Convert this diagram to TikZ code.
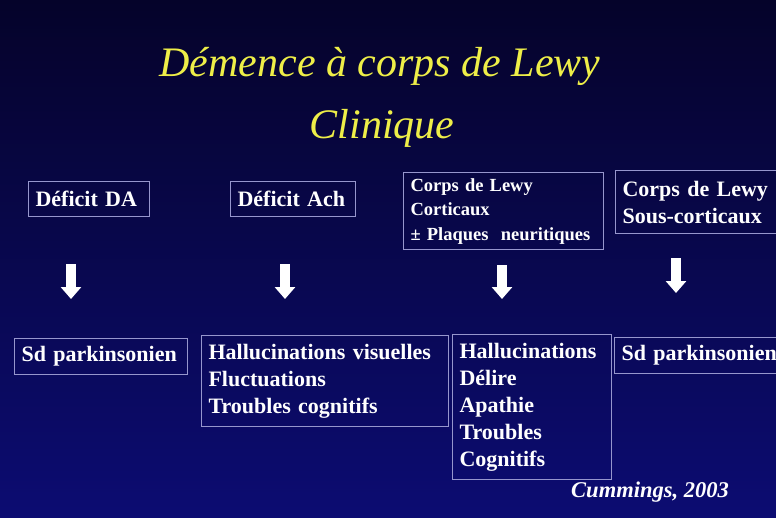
\documentclass[tikz,border=0pt]{standalone}
\usepackage{fontspec}
\setmainfont{Liberation Serif}
\usetikzlibrary{arrows.meta}

\definecolor{fundoTopo}{RGB}{5,3,42}
\definecolor{fundoBase}{RGB}{12,12,114}
\definecolor{titulo}{RGB}{238,238,72}
\definecolor{linhaCaixa}{RGB}{150,150,205}

\begin{document}
\begin{tikzpicture}[
  x = 1pt, y = -1pt,
  caixa/.style = {draw=linhaCaixa, line width=1.1pt, anchor=north west,
    align=left, inner xsep=7pt, inner ysep=0pt, text=white,
    font=\fontsize{22}{27}\selectfont\bfseries},
  caixaP/.style = {caixa, font=\fontsize{18.5}{24.5}\selectfont\bfseries},
  seta/.style = {white, line width=10pt,
    -{Triangle[width=20pt,length=12pt]}}
]
\clip (0,0) rectangle (776,517);
\shade[top color=fundoTopo, bottom color=fundoBase] (0,0) rectangle (776,517);

% titulo
\node[anchor=base, text=titulo, font=\fontsize{42}{50}\selectfont\itshape]
  (tit1) at (380,76) {Démence à corps de Lewy};
\node[anchor=base, text=titulo, font=\fontsize{42}{50}\selectfont\itshape]
  (tit2) at (382,138) {Clinique};

% causas (linha de cima)
\node[caixa, text width=107pt, minimum height=35pt] (da) at (28,181) {Déficit DA};
\node[caixa, text width=111pt, minimum height=35pt] (ach) at (230,181) {Déficit Ach};
\node[caixaP, text width=186pt, minimum height=77pt] (cort) at (403,172)
  {Corps de Lewy\\Corticaux\\± Plaques~ neuritiques};
\node[caixa, text width=170pt, minimum height=63pt] (scort) at (615,170)
  {Corps de Lewy\\Sous-corticaux};

% setas
\coordinate (s1a) at (71,264);  \coordinate (s1b) at (71,299);
\coordinate (s2a) at (285,264); \coordinate (s2b) at (285,299);
\coordinate (s3a) at (502,265); \coordinate (s3b) at (502,299);
\coordinate (s4a) at (676,258); \coordinate (s4b) at (676,293);
\draw[seta] (s1a) -- (s1b);
\draw[seta] (s2a) -- (s2b);
\draw[seta] (s3a) -- (s3b);
\draw[seta] (s4a) -- (s4b);

% clinica (linha de baixo)
\node[caixa, text width=159pt, minimum height=36pt] (sd1) at (14,338) {Sd parkinsonien};
\node[caixa, text width=233pt, minimum height=91pt] (hal) at (201,335)
  {Hallucinations visuelles\\Fluctuations\\Troubles cognitifs};
\node[caixa, text width=145pt, minimum height=145pt] (hal2) at (452,334)
  {Hallucinations\\Délire\\Apathie\\Troubles\\Cognitifs};
\node[caixa, text width=170pt, minimum height=36pt] (sd2) at (614,337) {Sd parkinsonien};

% referencia
\node[anchor=base, text=white, font=\fontsize{22.5}{26}\selectfont\bfseries\itshape]
  (ref) at (650,497) {Cummings, 2003};
\end{tikzpicture}
\end{document}
